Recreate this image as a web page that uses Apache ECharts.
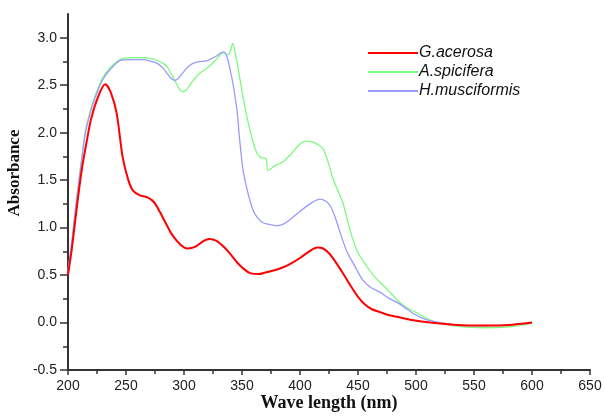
<!DOCTYPE html>
<html>
<head>
<meta charset="utf-8">
<script src="https://cdn.jsdelivr.net/npm/echarts@6/dist/echarts.min.js"></script>
<style>html,body{margin:0;padding:0;background:#fff;}#c{width:605px;height:416px;}</style>
</head>
<body>
<div id="c"></div>
<script>
// ---- data ----
var seriesNames = ['G.acerosa', 'A.spicifera', 'H.musciformis'];

var gWave = [200,203,206,209,212,216,220,226,232,237,242,247,252,256,262,268,274,279,285,290,297,303,310,317,322,328,334,340,346,352,357,364,371,378,385,392,400,408,415,420,425,430,437,444,450,456,462,469,476,484,495,512,530,547,570,585,600];
var gAbs  = [0.50,0.75,1.05,1.35,1.62,1.90,2.15,2.38,2.51,2.42,2.20,1.75,1.50,1.39,1.34,1.32,1.27,1.17,1.03,0.92,0.82,0.78,0.80,0.86,0.88,0.86,0.80,0.72,0.63,0.56,0.52,0.51,0.53,0.55,0.58,0.62,0.68,0.75,0.79,0.78,0.73,0.65,0.52,0.38,0.27,0.19,0.14,0.11,0.08,0.06,0.03,0.00,-0.02,-0.03,-0.03,-0.02,0.00];

var aWave = [200,203,206,209,212,215,219,222,226,230,236,245,255,265,272,277,282,285,289,292,296,299,302,305,308,314,320,327,334,338,340,342,344,347,351,354,357,360,363,366,370,371,372.5,378,385,392,400,405,411,416,420,424,428,433,437,440,443,449,455,460,466,472,479,486,493,501,510,518,530,547,560,575,590,600];
var aAbs  = [0.52,0.80,1.15,1.45,1.75,2.02,2.22,2.34,2.47,2.58,2.68,2.77,2.79,2.79,2.78,2.76,2.73,2.70,2.62,2.55,2.46,2.43,2.45,2.50,2.55,2.63,2.68,2.76,2.84,2.82,2.86,2.94,2.85,2.65,2.37,2.18,2.02,1.88,1.78,1.74,1.73,1.72,1.60,1.65,1.69,1.77,1.88,1.91,1.90,1.87,1.83,1.70,1.53,1.38,1.26,1.12,0.98,0.76,0.64,0.55,0.46,0.39,0.30,0.21,0.15,0.10,0.04,0.00,-0.03,-0.05,-0.055,-0.05,-0.03,-0.01];

var hWave = [200,203,206,209,212,215,219,222,226,230,236,245,255,265,272,277,282,285,289,292,295,299,304,310,320,327,334,337,340,342,344,346,348,351,354,357,360,363,367,371,380,386,391,397,403,410,417,422,426,430,434,440,447,454,461,469,476,484,490,497,505,512,525,540,555,570,585,600];
var hAbs  = [0.55,0.82,1.15,1.45,1.73,2.00,2.20,2.32,2.45,2.56,2.66,2.76,2.77,2.77,2.75,2.73,2.68,2.63,2.57,2.55,2.57,2.63,2.70,2.74,2.76,2.80,2.85,2.80,2.65,2.53,2.38,2.20,1.92,1.60,1.42,1.28,1.17,1.11,1.06,1.04,1.02,1.04,1.08,1.14,1.20,1.26,1.30,1.28,1.23,1.12,0.97,0.76,0.60,0.45,0.37,0.32,0.26,0.21,0.16,0.10,0.05,0.02,-0.01,-0.03,-0.035,-0.03,-0.02,0.00];

var xTicks = [200,250,300,350,400,450,500,550,600,650];
var yTicks = [-0.5,0.0,0.5,1.0,1.5,2.0,2.5,3.0];
var yMinorTicks = [-0.25,0.25,0.75,1.25,1.75,2.25,2.75];
var xTitle = 'Wave length (nm)';
var yTitle = 'Absorbance';

function pairs(xs, ys) { return xs.map(function (x, i) { return [x, ys[i]]; }); }

var axisCol = '#333333';
var labelStyle = { fontFamily: 'Liberation Sans, Arial, sans-serif', fontSize: 14, color: '#222' };
var colors = ['#ff0000', '#7dfa7d', '#9a9aff'];

var chart = echarts.init(document.getElementById('c'), null, { renderer: 'canvas' });
chart.setOption({
  animation: false,
  backgroundColor: '#ffffff',
  grid: { left: 68, right: 15, top: 14, bottom: 46, containLabel: false },
  legend: {
    orient: 'vertical', left: 368, top: 45, padding: 0,
    itemWidth: 50, itemHeight: 2, itemGap: 3,
    data: seriesNames.map(function (n) { return { name: n, icon: 'rect' }; }),
    textStyle: { fontFamily: 'Liberation Sans, Arial, sans-serif', fontStyle: 'italic', fontSize: 16, color: '#111', lineHeight: 16, padding: [0, 0, 0, -4] }
  },
  xAxis: {
    type: 'value', min: xTicks[0], max: xTicks[xTicks.length - 1], interval: 50,
    axisLine: { show: true, onZero: false, lineStyle: { color: axisCol, width: 2 } },
    axisTick: { show: true, length: 5, lineStyle: { color: axisCol, width: 1.5 } },
    minorTick: { show: true, splitNumber: 2, length: 4, lineStyle: { color: axisCol, width: 1.5 } },
    axisLabel: Object.assign({ margin: 9 }, labelStyle),
    splitLine: { show: false }
  },
  yAxis: [{
    type: 'value', min: yTicks[0], max: 3.25, position: 'left',
    axisLine: { show: true, onZero: false, lineStyle: { color: axisCol, width: 2 } },
    axisTick: { show: true, length: 8, customValues: yTicks, lineStyle: { color: axisCol, width: 1.5 } },
    axisLabel: Object.assign({ margin: 11, customValues: yTicks, formatter: function (v) { return v.toFixed(1); } }, labelStyle),
    splitLine: { show: false }
  }, {
    type: 'value', min: yTicks[0], max: 3.25, position: 'left', offset: 0,
    axisLine: { show: false },
    axisTick: { show: true, length: 5, customValues: yMinorTicks, lineStyle: { color: axisCol, width: 1.5 } },
    axisLabel: { show: false },
    splitLine: { show: false }
  }],
  graphic: [
    { type: 'text', x: 329, y: 403, style: { text: xTitle, align: 'center', verticalAlign: 'middle', font: 'bold 18px "Liberation Serif", "Times New Roman", serif', fill: '#111' } },
    { type: 'text', x: 15, y: 173, rotation: Math.PI / 2, style: { text: yTitle, align: 'center', verticalAlign: 'middle', font: 'bold 17px "Liberation Serif", "Times New Roman", serif', fill: '#111' } }
  ],
  series: [
    { name: seriesNames[0], type: 'line', data: pairs(gWave, gAbs), symbol: 'none', smooth: 0.3, lineStyle: { color: colors[0], width: 2 }, itemStyle: { color: colors[0] }, z: 5 },
    { name: seriesNames[1], type: 'line', data: pairs(aWave, aAbs), symbol: 'none', smooth: 0.3, lineStyle: { color: colors[1], width: 1.3 }, itemStyle: { color: colors[1] }, z: 3 },
    { name: seriesNames[2], type: 'line', data: pairs(hWave, hAbs), symbol: 'none', smooth: 0.3, lineStyle: { color: colors[2], width: 1.3 }, itemStyle: { color: colors[2] }, z: 4 }
  ]
});
</script>
</body>
</html>
